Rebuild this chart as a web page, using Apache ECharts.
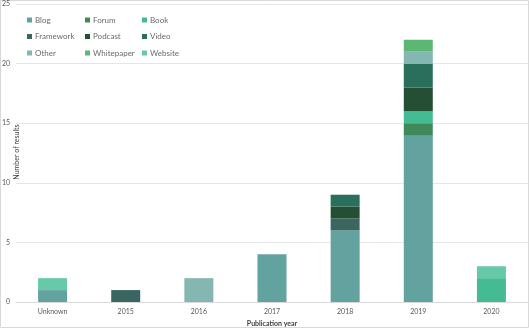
<!DOCTYPE html>
<html><head><meta charset="utf-8">
<script src="https://cdn.jsdelivr.net/npm/echarts@6/dist/echarts.min.js"></script>
<style>html,body{margin:0;padding:0;background:#fff}#c{width:529px;height:328px}</style>
</head><body><div id="c"></div>
<script>
const categories = ['Unknown','2015','2016','2017','2018','2019','2020'];
const Blog       = [1,0,0,4,6,14,0];
const Forum      = [0,0,0,0,0,1,0];
const Book       = [0,0,0,0,0,1,2];
const Framework  = [0,1,0,0,1,0,0];
const Podcast    = [0,0,0,0,1,2,0];
const Video      = [0,0,0,0,1,2,0];
const Other      = [0,0,2,0,0,1,0];
const Whitepaper = [0,0,0,0,0,1,0];
const Website    = [1,0,0,0,0,0,1];
const yTicks = [0,5,10,15,20,25];

const seriesDefs = [
  ['Blog', Blog, '#62a39f'],
  ['Forum', Forum, '#3f8a58'],
  ['Book', Book, '#45bb93'],
  ['Framework', Framework, '#3a6560'],
  ['Podcast', Podcast, '#244f35'],
  ['Video', Video, '#2a6f5c'],
  ['Other', Other, '#84b7b1'],
  ['Whitepaper', Whitepaper, '#5cb772'],
  ['Website', Website, '#66c9a7']
];
const font = 'Lato, "Open Sans", sans-serif';
const legendBase = {orient:'vertical', top:16, itemWidth:5, itemHeight:5, itemGap:8.5, icon:'rect',
  textStyle:{fontSize:8, color:'#6b6b6b', fontFamily:font, padding:[0,0,0,-2]}, padding:0};
const chart = echarts.init(document.getElementById('c'));
chart.setOption({
  animation:false,
  graphic:[
    {type:'rect', shape:{x:0.5,y:0.5,width:528,height:327}, style:{fill:'none', stroke:'#d9d9d9', lineWidth:1}, silent:true},
    {type:'text', x:17, y:152, rotation:Math.PI/2, z:10,
     style:{text:'Number of results', fontSize:7, fill:'#404040', fontFamily:font, align:'center', verticalAlign:'middle'}}
  ],
  legend:[
    Object.assign({left:27, data:['Blog','Framework','Other']}, legendBase),
    Object.assign({left:85, data:['Forum','Podcast','Whitepaper']}, legendBase),
    Object.assign({left:142, data:['Book','Video','Website']}, legendBase)
  ],
  grid:{left:16, right:1, top:4, bottom:26, containLabel:false, outerBoundsMode:'none'},
  xAxis:{type:'category', data:categories, name:'Publication year', nameLocation:'middle', nameGap:18,
    nameTextStyle:{fontSize:7, fontWeight:'bold', color:'#404040', fontFamily:font},
    axisLine:{lineStyle:{color:'#d9d9d9'}}, axisTick:{show:false},
    axisLabel:{fontSize:7, color:'#595959', fontFamily:font, margin:6}},
  yAxis:{type:'value', min:yTicks[0], max:yTicks[yTicks.length-1], interval:5,
    axisLabel:{fontSize:7, color:'#595959', fontFamily:font, margin:6},
    splitLine:{lineStyle:{color:'#e6e6e6'}}},
  series: seriesDefs.map(([n,d,c]) => ({name:n, type:'bar', stack:'s', data:d, barWidth:29,
    itemStyle:{color:c}}))
});
</script></body></html>
